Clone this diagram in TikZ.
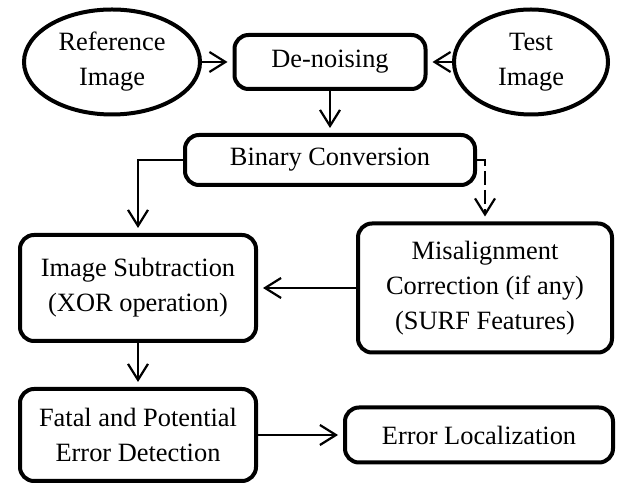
\documentclass[tikz,border=0pt]{standalone}
\usepackage{fontspec}
\setmainfont{Liberation Serif}
\usetikzlibrary{arrows.meta,shapes.geometric}

\begin{document}
\begin{tikzpicture}[x=0.5pt,y=-0.5pt,
    txt/.style={align=center,inner sep=0pt,font=\fontsize{13.2}{17.5}\selectfont},
    box/.style={txt,draw,line width=2pt,rounded corners=7pt},
    oval/.style={txt,draw,ellipse,line width=2pt},
    flow/.style={line width=1.1pt,shorten >=2.5pt,-{Straight Barb[length=8pt,width=10pt]}}]

  \useasboundingbox (0,0) rectangle (621,485);

  % Inputs and pre-processing
  \node[oval,minimum width=88pt,minimum height=52.5pt] (ref) at (112,62) {Reference\\Image};
  \node[box,minimum width=95.5pt,minimum height=27pt] (denoise) at (330,62) {De-noising};
  \node[oval,minimum width=77pt,minimum height=52.5pt] (test) at (531,62) {Test\\Image};
  \node[box,minimum width=145pt,minimum height=25pt] (binary) at (330,160) {Binary Conversion};

  % Comparison
  \node[box,minimum width=118pt,minimum height=53pt] (subtract) at (138,288) {Image Subtraction\\(XOR operation)};
  \node[box,minimum width=127pt,minimum height=64.5pt] (misalign) at (485,288) {Misalignment\\Correction (if any)\\(SURF Features)};

  % Output
  \node[box,minimum width=118pt,minimum height=46pt] (fatal) at (138,435) {Fatal and Potential\\Error Detection};
  \node[box,minimum width=134pt,minimum height=27.5pt] (localize) at (479,435) {Error Localization};

  \draw[flow] (ref) -- (denoise);
  \draw[flow] (test) -- (denoise);
  \draw[flow] (denoise) -- (binary);
  \draw[flow] (binary.west) -| (subtract.north);
  \draw[flow,dash pattern=on 7pt off 2.5pt] (binary.east) -| (misalign.north);
  \draw[flow] (misalign.west) -- (subtract.east);
  \draw[flow] (subtract) -- (fatal);
  \draw[flow] (fatal) -- (localize);
\end{tikzpicture}
\end{document}
